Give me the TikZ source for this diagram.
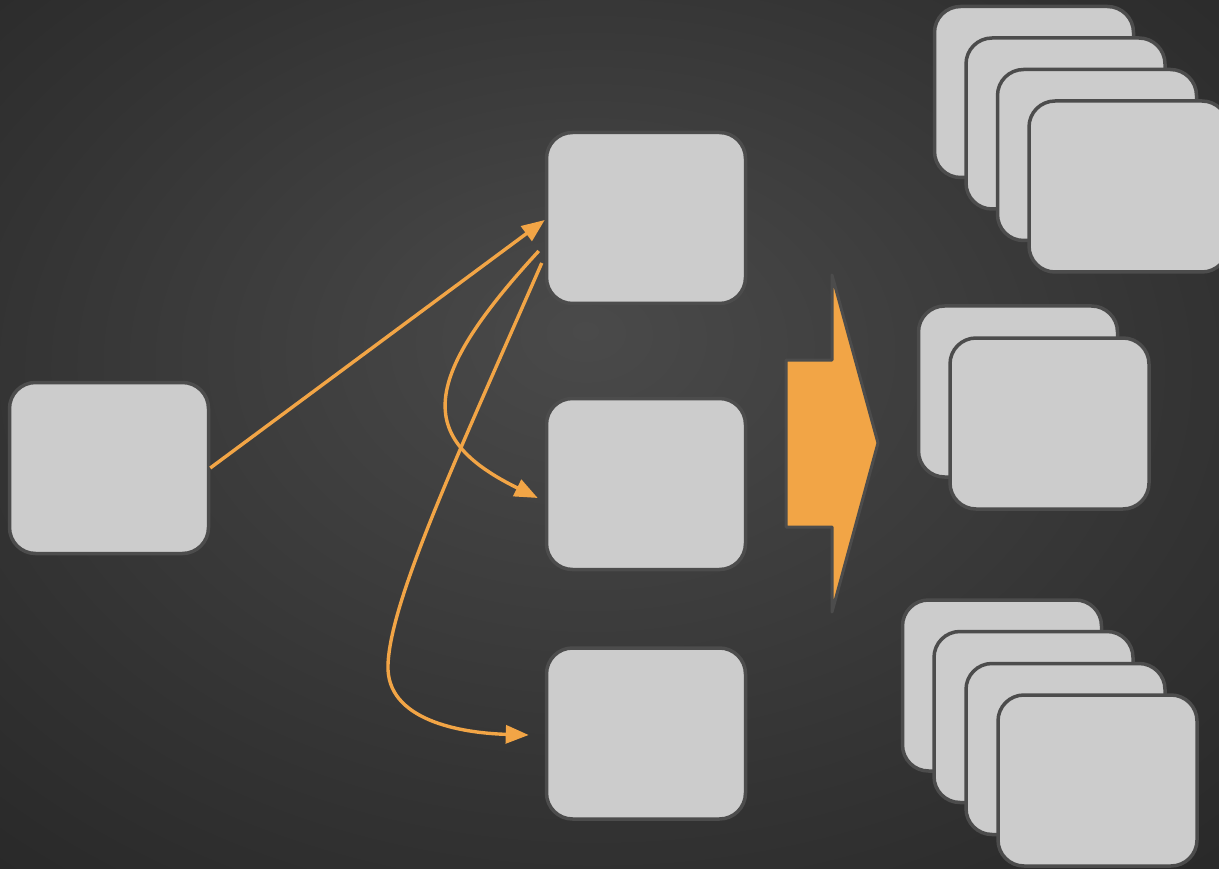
\documentclass[tikz,border=0pt]{standalone}
\usetikzlibrary{arrows.meta}
\definecolor{bgin}{HTML}{4A4A4A}
\definecolor{bgmid}{HTML}{333333}
\definecolor{bgout}{HTML}{1E1E1E}
\definecolor{boxfill}{HTML}{CCCCCC}
\definecolor{boxline}{HTML}{4C4C4C}
\definecolor{orng}{HTML}{F2A546}
\pgfdeclareradialshading{bgshade}{\pgfpoint{-1bp}{6bp}}{color(0bp)=(bgin); color(25bp)=(bgmid); color(50bp)=(bgout); color(60bp)=(bgout)}
\tikzset{
  card/.style={draw=boxline, fill=boxfill, line width=3.5pt, rounded corners=26pt,
    minimum width=199pt, minimum height=171pt, inner sep=0pt},
  link/.style={draw=orng, line width=3.4pt, -{Triangle[length=23pt,width=18pt]}},
  bigarrow/.style={draw=boxline, fill=orng, line width=3pt, line join=round}
}
\begin{document}
\begin{tikzpicture}[x=1pt,y=-1pt]
\clip (0,0) rectangle (1219,869);
\shade[shading=bgshade] (0,0) rectangle (1219,869);
% left
\node[card] (L) at (109,468) {};
% middle column
\node[card] (M1) at (646,218) {};
\node[card] (M2) at (646,484) {};
\node[card] (M3) at (646,733.5) {};
% top right stack
\node[card] (A1) at (1034,92) {};
\node[card] (A2) at (1065.5,123.5) {};
\node[card] (A3) at (1097,155) {};
\node[card] (A4) at (1128.5,186.5) {};
% middle right stack
\node[card] (B1) at (1018,391.5) {};
\node[card] (B2) at (1049.5,423.5) {};
% bottom right stack
\node[card] (C1) at (1002,685.5) {};
\node[card] (C2) at (1033.5,717) {};
\node[card] (C3) at (1065.5,749) {};
\node[card] (C4) at (1097.5,780.5) {};
% big arrow
\draw[bigarrow] (786,360) -- (832,360) -- (832,275) -- (878,443) -- (832,612) -- (832,527) -- (786,527) -- cycle;
% connectors
\path[link] (L.east) -- ([shift={(0,2)}]M1.west);
\path[link] ([shift={(-6,33)}]M1.west) .. controls (415,385) and (420,440) .. ([shift={(-7,14)}]M2.west);
\path[link] ([shift={(-3,45)}]M1.west) .. controls (460,450) and (390,600) .. (388,665)
  .. controls (386,720) and (460,733) .. ([shift={(-16,1.5)}]M3.west);
\end{tikzpicture}
\end{document}
